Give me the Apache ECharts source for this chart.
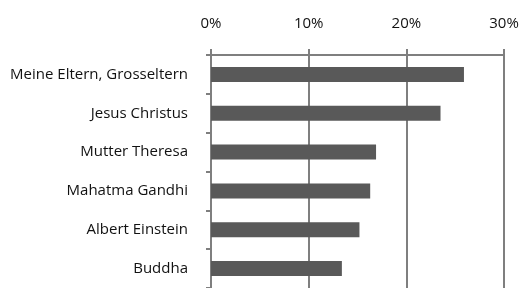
<!DOCTYPE html>
<html>
<head>
<meta charset="utf-8">
<script src="https://cdn.jsdelivr.net/npm/echarts@6/dist/echarts.min.js"></script>
<style>
  html, body { margin: 0; padding: 0; background: #fff; }
  #chart { width: 522px; height: 288px; }
</style>
</head>
<body>
<div id="chart"></div>
<script>
// categories from top to bottom
const categories = [
  'Meine Eltern, Grosseltern',
  'Jesus Christus',
  'Mutter Theresa',
  'Mahatma Gandhi',
  'Albert Einstein',
  'Buddha'
]
// share in percent
const values = [25.9, 23.5, 16.9, 16.3, 15.2, 13.4]
const tickValues = [0, 10, 20, 30]

const chart = echarts.init(document.getElementById('chart'))
const lineColor = '#7f7f7f'
const font = '"Open Sans", sans-serif'

chart.setOption({
  animation: false,
  grid: {
    left: 211,
    right: 18,
    top: 55,
    bottom: -2
  },
  xAxis: {
    type: 'value',
    position: 'top',
    min: tickValues[0],
    max: tickValues[tickValues.length - 1],
    interval: 10,
    axisLine: { show: true, lineStyle: { color: lineColor, width: 2 } },
    axisTick: { show: true, length: 6, lineStyle: { color: lineColor, width: 2 } },
    splitLine: { show: true, lineStyle: { color: lineColor, width: 2 } },
    axisLabel: {
      formatter: '{value}%',
      color: '#111',
      fontFamily: font,
      fontSize: 15,
      margin: 24
    }
  },
  yAxis: {
    type: 'category',
    data: categories,
    inverse: true,
    axisLine: { show: true, lineStyle: { color: lineColor, width: 2 } },
    axisTick: { show: true, length: 5, lineStyle: { color: lineColor, width: 2 } },
    axisLabel: {
      color: '#111',
      fontFamily: font,
      fontSize: 15,
      margin: 23
    }
  },
  series: [{
    type: 'bar',
    data: values,
    barWidth: 15,
    itemStyle: {
      color: '#595959'
    }
  }]
})
</script>
</body>
</html>
